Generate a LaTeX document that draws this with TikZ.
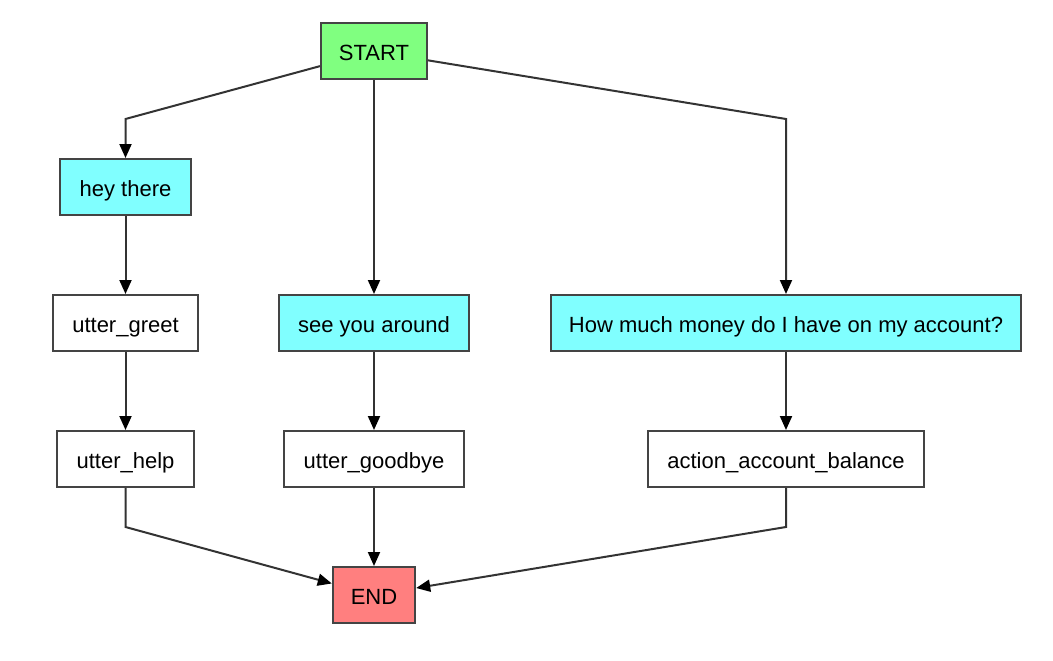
\documentclass[tikz,border=0pt]{standalone}
\usepackage{fontspec}
\setmainfont{Liberation Sans}
\usetikzlibrary{arrows.meta}
\definecolor{startc}{HTML}{80FF80}
\definecolor{userc}{HTML}{80FFFF}
\definecolor{endc}{HTML}{FF7F7F}
\definecolor{linec}{HTML}{333333}
\definecolor{borderc}{HTML}{444444}
\begin{document}
\begin{tikzpicture}[x=1pt,y=-1pt,
  box/.style={draw=borderc,line width=2pt,minimum height=56pt,inner xsep=19.5pt,
    text height=21pt,text depth=3pt,
    font=\fontsize{22}{26}\selectfont,fill=white},
  edge/.style={draw=linec,line width=2pt,-{Triangle[length=14pt,width=12pt,color=black]}}]
\useasboundingbox (0,0) rectangle (1053,661);
\node[box,fill=startc,inner xsep=18pt] (START) at (374,51.5) {START};
\node[box,fill=userc] (hey) at (125.5,187) {hey there};
\node[box] (greet) at (125.5,323) {utter\_greet};
\node[box,fill=userc] (see) at (374,323) {see you around};
\node[box,fill=userc,inner xsep=18pt] (money) at (786,323) {How much money do I have on my account?};
\node[box] (help) at (125.5,459) {utter\_help};
\node[box] (bye) at (374,459) {utter\_goodbye};
\node[box] (bal) at (786,459) {action\_account\_balance};
\node[box,fill=endc,inner xsep=18pt] (END) at (374,595) {END};
\coordinate (c1) at (125.5,119);
\coordinate (c2) at (786,119);
\coordinate (c3) at (125.5,527);
\coordinate (c4) at (786,527);
\draw[edge] (START) -- (c1) -- (hey);
\draw[edge] (START) -- (see);
\draw[edge] (START) -- (c2) -- (money);
\draw[edge] (hey) -- (greet);
\draw[edge] (greet) -- (help);
\draw[edge] (see) -- (bye);
\draw[edge] (money) -- (bal);
\draw[edge] (help.south) -- (c3) -- (END);
\draw[edge] (bye) -- (END);
\draw[edge] (bal.south) -- (c4) -- (END);
\end{tikzpicture}
\end{document}
